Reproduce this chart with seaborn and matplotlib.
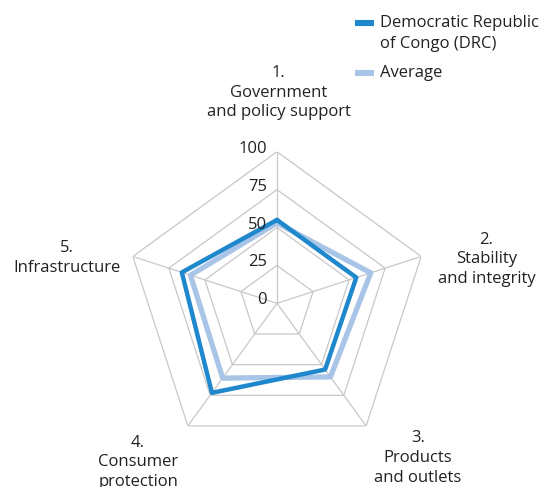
import numpy as np
import pandas as pd
import matplotlib
matplotlib.use("Agg")
import matplotlib.pyplot as plt
import matplotlib.transforms as mtransforms
from matplotlib.lines import Line2D
import seaborn as sns

# Pillar scores (0-100)
categories = ["1.\nGovernment\nand policy support",
              "2.\nStability\nand integrity",
              "3.\nProducts\nand outlets",
              "4.\nConsumer\nprotection",
              "5.\nInfrastructure"]
drc_scores = [55, 55, 54, 73, 66]
avg_scores = [53, 65, 60, 61, 60]
series_names = ["Democratic Republic\nof Congo (DRC)", "Average"]
grid_levels = [0, 25, 50, 75, 100]
tick_labels = ["0", "25", "50", "75", "100"]

colors = {series_names[0]: "#1f88cc", series_names[1]: "#a8c4e6"}
widths = {series_names[0]: 3.2, series_names[1]: 3.8}
FS = 12

sns.set_theme(style="white")
plt.rcParams["font.family"] = ["Open Sans", "DejaVu Sans"]
plt.rcParams["text.color"] = "#222222"

n = len(categories)
theta = np.linspace(0, 2 * np.pi, n, endpoint=False)
theta_closed = np.append(theta, 2 * np.pi)

rows = []
for name, vals in zip(series_names, [drc_scores, avg_scores]):
    vals_closed = list(vals) + [vals[0]]
    for t, v in zip(theta_closed, vals_closed):
        rows.append({"series": name, "theta": t, "value": v})
df = pd.DataFrame(rows)

fig = plt.figure(figsize=(5.43, 4.87), dpi=100)
ax = fig.add_axes([0.2309, 0.0659, 0.5584, 0.6226], projection="polar")
ax.set_theta_offset(np.pi / 2)
ax.set_theta_direction(-1)

# Pentagon grid and spokes
grid_color = "#c8c8c8"
for lvl in grid_levels[1:]:
    ax.plot(theta_closed, [lvl] * (n + 1), color=grid_color, lw=0.9, zorder=1)
for t in theta:
    ax.plot([t, t], [0, 100], color=grid_color, lw=0.9, zorder=1)

# Series: average underneath, DRC on top
for name, z in [(series_names[1], 2), (series_names[0], 3)]:
    sub = df[df["series"] == name]
    sns.lineplot(data=sub, x="theta", y="value", sort=False, estimator=None, ax=ax,
                 color=colors[name], lw=widths[name], zorder=z, legend=False)

ax.set_ylim(0, 100)
ax.grid(False)
ax.spines["polar"].set_visible(False)
ax.set_xticks([])
ax.set_yticks([])
ax.set_xlabel("")
ax.set_ylabel("")
ax.set_facecolor("none")

# Radial tick labels along the first spoke
tick_tr = mtransforms.offset_copy(ax.transData, fig=fig, x=-10, y=3, units="dots")
for lvl, lab in zip(grid_levels, tick_labels):
    ax.text(0, lvl, lab, transform=tick_tr, ha="right", va="center",
            fontsize=FS, color="#222222")

# Category labels
label_pos = [(0.505, 1.195), (1.191, 0.645), (0.965, -0.01), (0.042, -0.025), (-0.193, 0.649)]
for (x, y), lab in zip(label_pos, categories):
    ax.text(x, y, lab, transform=ax.transAxes, ha="center", va="center",
            fontsize=FS, linespacing=1.3, color="#222222")

# Legend, handle aligned with the first line of each entry
W, H = 543, 487
legend_rows = [(series_names[0], 23), (series_names[1], 73)]
for name, ypx in legend_rows:
    fig.add_artist(Line2D([355 / W, 374 / W], [1 - ypx / H, 1 - ypx / H],
                          transform=fig.transFigure, color=colors[name], lw=4.4,
                          solid_capstyle="butt"))
    fig.text(380 / W, 1 - (ypx - 8) / H, name, ha="left", va="top",
             fontsize=FS, linespacing=1.42, color="#222222")

fig.savefig("out.png", dpi=100)
